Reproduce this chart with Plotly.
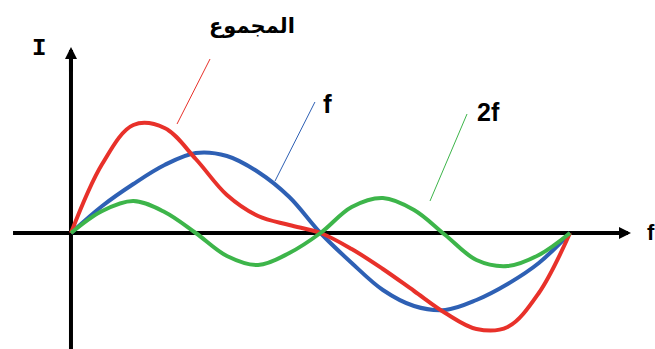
import plotly.graph_objects as go

# Phase of the fundamental, in degrees (one full period)
phase_deg = [0, 22.5, 45, 67.5, 90, 112.5, 135, 157.5, 180,
             202.5, 225, 247.5, 270, 292.5, 315, 337.5, 360]

# Current values (arbitrary units)
fundamental_f = [0, 27, 49, 68, 80, 77, 61, 36, 0,
                 -30, -57, -73, -77, -67, -51, -30, 0]
harmonic_2f = [0, 22, 32, 21, 0, -23, -32, -20, 0,
               26, 35, 23, -2, -27, -33, -22, 0]
total_sum = [0, 69, 108, 105, 74, 38, 17, 8, 0,
             -16, -36, -58, -80, -96, -94, -60, 0]

RED = "#E8312A"
BLUE = "#2E60B4"
GREEN = "#3DB54A"

fig = go.Figure()
for ys, col in [(fundamental_f, BLUE), (total_sum, RED), (harmonic_2f, GREEN)]:
    fig.add_trace(go.Scatter(
        x=phase_deg, y=ys, mode="lines",
        line=dict(color=col, width=4, shape="spline", smoothing=1),
        hoverinfo="skip", showlegend=False,
    ))

# Axis lines (beneath the curves)
shapes = [
    dict(type="line", x0=-41.8, y0=0, x1=396, y1=0,
         line=dict(color="black", width=4), layer="below"),
    dict(type="line", x0=0, y0=-120, x1=0, y1=178,
         line=dict(color="black", width=4), layer="below"),
    # pointer lines from labels to curves
    dict(type="line", x0=100.3, y0=174, x1=76.5, y1=109,
         line=dict(color=RED, width=1)),
    dict(type="line", x0=176.0, y0=131, x1=147.2, y1=52,
         line=dict(color=BLUE, width=1)),
    dict(type="line", x0=285.7, y0=119, x1=259.0, y1=32,
         line=dict(color=GREEN, width=1)),
]

annotations = [
    # arrowheads on the axes
    dict(x=404, y=0, ax=385, ay=0, xref="x", yref="y", axref="x", ayref="y",
         text="", showarrow=True, arrowhead=2, arrowwidth=4, arrowsize=0.6,
         arrowcolor="black", standoff=0),
    dict(x=0, y=186, ax=0, ay=160, xref="x", yref="y", axref="x", ayref="y",
         text="", showarrow=True, arrowhead=2, arrowwidth=4, arrowsize=0.6,
         arrowcolor="black", standoff=0),
    # labels
    dict(x=130.6, y=207, xref="x", yref="y", text="<b>المجموع</b>",
         showarrow=False, font=dict(family="DejaVu Sans", size=21, color="black")),
    dict(x=185.4, y=129, xref="x", yref="y", text="<b>f</b>",
         showarrow=False, font=dict(family="Liberation Sans", size=26, color="black")),
    dict(x=301.5, y=121, xref="x", yref="y", text="<b>2f</b>",
         showarrow=False, font=dict(family="Liberation Sans", size=25, color="black")),
    dict(x=-23.1, y=185, xref="x", yref="y", text="<b>I</b>",
         showarrow=False, font=dict(family="Liberation Mono", size=24, color="black")),
    dict(x=414, y=1, xref="x", yref="y", text="<b>f</b>", xanchor="left",
         showarrow=False, font=dict(family="Liberation Sans", size=22, color="black")),
]

fig.update_layout(
    width=655, height=349,
    margin=dict(l=0, r=0, t=0, b=0),
    paper_bgcolor="white", plot_bgcolor="white",
    xaxis=dict(range=[-51.2, 421.3], visible=False, fixedrange=True),
    yaxis=dict(range=[-116, 233], visible=False, fixedrange=True),
    shapes=shapes, annotations=annotations,
)

fig.write_html("out.html")
